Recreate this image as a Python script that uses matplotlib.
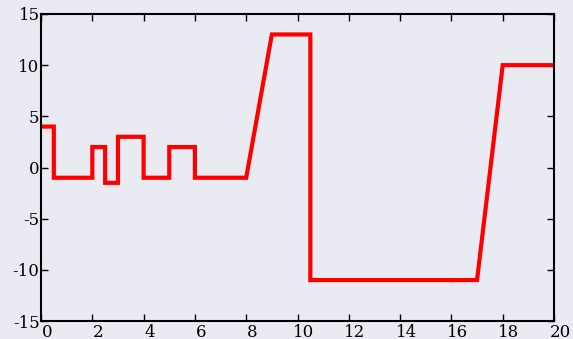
import matplotlib as mpl
mpl.use('Agg')
import matplotlib.pyplot as plt
import matplotlib.transforms as mtransforms

# piecewise signal, stored as two pieces joined at x=16
x_a = [0, 0.5, 0.5, 2, 2, 2.5, 2.5, 3, 3, 4, 4, 5, 5, 6, 6, 8, 9, 10.5, 10.5, 16]
y_a = [4, 4, -1, -1, 2, 2, -1.5, -1.5, 3, 3, -1, -1, 2, 2, -1, -1, 13, 13, -11, -11]
x_b = [16, 17, 18, 20]
y_b = [-11, -11, 10, 10]

xticks = [0, 2, 4, 6, 8, 10, 12, 14, 16, 18, 20]
yticks = [-15, -10, -5, 0, 5, 10, 15]

bg = '#EAEAF2'
plt.rcParams['font.family'] = 'DejaVu Serif'
plt.rcParams['axes.unicode_minus'] = False

fig = plt.figure(figsize=(5.73, 3.39), dpi=100, facecolor=bg)
ax = fig.add_axes([41/573, 1-321/339, 513/573, 307/339], facecolor=bg)

for xs, ys in [(x_a, y_a), (x_b, y_b)]:
    ax.plot(xs, ys, color='red', lw=3, solid_joinstyle='miter')

ax.set_xlim(0, 20)
ax.set_ylim(-15, 15)
ax.set_xticks(xticks)
ax.set_yticks(yticks)
ax.set_xticklabels([str(t) for t in xticks])
ax.set_yticklabels([str(t) for t in yticks])

for s in ax.spines.values():
    s.set_color('black')
    s.set_linewidth(1.5)

ax.tick_params(direction='in', length=5, width=1, color='black',
               labelsize=12, top=True, right=True)
ax.tick_params(axis='x', pad=2)
ax.tick_params(axis='y', pad=1)

# nudge the x labels slightly right
shift = mtransforms.ScaledTranslation(6/100, 0, fig.dpi_scale_trans)
for lab in ax.get_xticklabels():
    lab.set_transform(lab.get_transform() + shift)

fig.savefig('out.png', dpi=100, facecolor=bg)
